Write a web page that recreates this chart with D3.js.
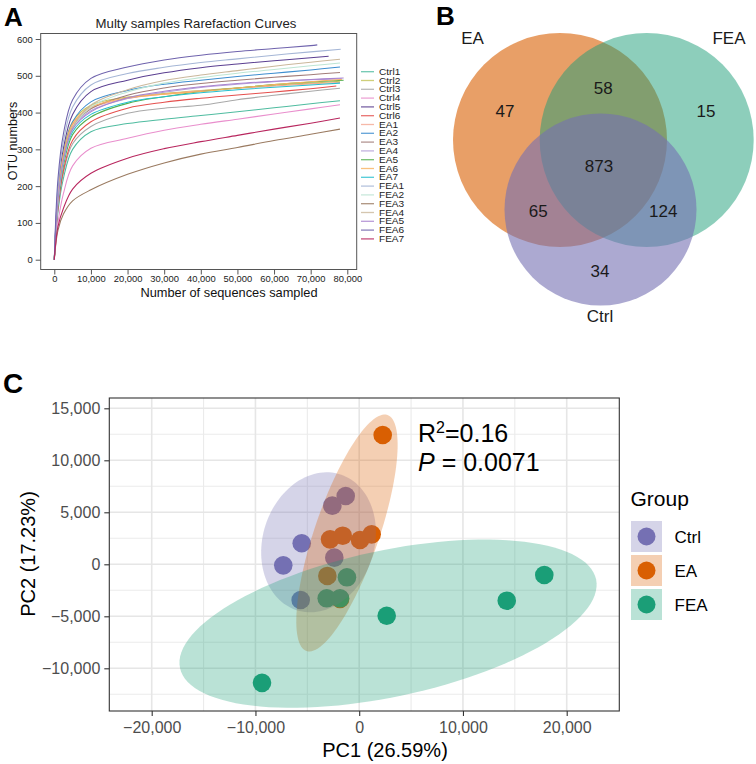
<!DOCTYPE html>
<html><head><meta charset="utf-8">
<script src="https://cdn.jsdelivr.net/npm/d3@7"></script>
<style>
body{margin:0;background:#fff}
svg text{font-family:"Liberation Sans",Arial,Helvetica,sans-serif}
</style>
</head><body>
<svg id="chart" width="756" height="764"></svg>
<script>
// ---------------- DATA ----------------
// Panel A: rarefaction curves
const sampleNames = ["Ctrl1","Ctrl2","Ctrl3","Ctrl4","Ctrl5","Ctrl6","EA1","EA2","EA3","EA4","EA5","EA6","EA7","FEA1","FEA2","FEA3","FEA4","FEA5","FEA6","FEA7"];
const sampleColors = ["#4fbca0","#c4c45a","#a9a9a9","#e98fcd","#5b3f91","#e5504e","#f5a893","#3e8ecf","#a27d79","#b5a0d8","#55b04f","#f9b25f","#27c0cf","#a5b6d6","#bde5d4","#9a7a60","#cbb89c","#a983cf","#6f63ad","#b8265e"];
const seqDepthGrid = [0,1000,2500,5000,10000,20000,30000,40000,50000,60000,70000];
const sampleEndDepth = [78000,78000,78000,78000,74900,77000,78000,78000,78000,78500,79000,78500,78000,78200,78000,78000,78000,79000,71800,78000];
const otuCtrl = [
  [0,130,222,300,348,370,382,392,402,413,424,432],
  [0,175,292,375,420,442,452,460,467,474,480,485],
  [0,138,236,315,362,398,412,420,435,447,458,466],
  [0,100,180,255,303,330,352,368,382,396,410,421],
  [0,185,303,395,457,488,508,522,532,541,549,553],
  [0,140,242,325,375,412,428,439,448,456,465,472]
];
const otuEA = [
  [0,165,282,367,412,438,450,459,466,472,478,482],
  [0,175,288,375,429,460,477,488,498,507,516,524],
  [0,165,277,360,410,447,467,479,488,496,503,509],
  [0,162,272,357,405,438,455,468,477,484,489,492],
  [0,150,256,340,388,425,443,457,467,476,483,488],
  [0,170,287,370,415,440,450,457,467,476,484,490],
  [0,155,264,348,395,428,443,454,462,469,475,480]
];
const otuFEA = [
  [0,200,323,415,475,506,523,536,546,556,565,572],
  [0,158,267,355,415,456,480,495,507,517,527,535],
  [0,80,124,160,190,232,263,287,305,324,341,355],
  [0,160,272,360,420,462,487,502,514,526,537,545],
  [0,160,270,355,402,440,458,470,479,485,490,494],
  [0,220,343,435,493,524,543,556,566,574,582,584],
  [0,90,140,192,235,276,302,321,338,355,371,385]
];
const rareXTicks = [0,10000,20000,30000,40000,50000,60000,70000,80000];
const rareYTicks = [0,100,200,300,400,500,600];

// Panel B: Venn
const vennSetNames = ["EA","FEA","Ctrl"];
const vennRegionLabels = ["EA only","FEA only","Ctrl only","EA∩FEA","EA∩Ctrl","FEA∩Ctrl","all"];
const vennRegionCounts = [47,15,34,58,65,124,873];

// Panel C: PCoA
const groupNames = ["Ctrl","EA","FEA"];
const groupColors = ["#7570b3","#d95f02","#1b9e77"];
const pc1Ctrl = [-1300,-2590,-5540,-7320,-2400,-5640];
const pc2Ctrl = [6570,5640,2020,-100,640,-3430];
const pc1EA = [2265,-2810,-1590,80,1200,-3070,-1850];
const pc2EA = [12430,2400,2750,2340,2880,-1120,-3330];
const pc1FEA = [-1180,-3130,-1850,2650,14220,17840,-9370];
const pc2FEA = [-1250,-3270,-3270,-4950,-3500,-1030,-11400];
// 95% ellipse estimates: centre x, centre y, semi-major, semi-minor, angle (deg)
const ellipseCx = [-3920,-1180,2780];
const ellipseCy = [2115,3010,-5710];
const ellipseA = [6860,12000,20500];
const ellipseB = [5370,3100,7030];
const ellipseAngle = [72,71,12];
const pcXTicks = [-20000,-10000,0,10000,20000];
const pcYTicks = [-10000,-5000,0,5000,10000,15000];
const pcXMinor = [-15000,-5000,5000,15000];
const pcYMinor = [-12500,-7500,-2500,2500,7500,12500];
const statR2 = "0.16", statP = "0.0071";

// ---------------- DRAW ----------------
const svg = d3.select("#chart");
svg.append("rect").attr("width",756).attr("height",764).attr("fill","#fff");

// ===== Panel A =====
const gA = svg.append("g");
gA.append("text").attr("x",4).attr("y",26).attr("font-size",26).attr("font-weight","bold").text("A");
const xA = d3.scaleLinear().domain([0,80000]).range([54.3,347.3]);
const yA = d3.scaleLinear().domain([0,600]).range([259.7,39]);
const boxA = {l:40.7,r:356.7,t:33.5,b:269.5};
gA.append("text").attr("x",196).attr("y",28).attr("text-anchor","middle").attr("font-size",13.2).attr("fill","#222").text("Multy samples Rarefaction Curves");

const allCurves = otuCtrl.concat(otuEA, otuFEA);
const lineA = d3.line().x(d=>xA(d[0])).y(d=>yA(d[1])).curve(d3.curveCatmullRom.alpha(0.5));
const curveG = gA.append("g");
allCurves.forEach((vals,i)=>{
  const pts = seqDepthGrid.map((x,j)=>[x,vals[j]]);
  pts.push([sampleEndDepth[i], vals[vals.length-1]]);
  curveG.append("path").attr("d",lineA(pts)).attr("fill","none")
    .attr("stroke",sampleColors[i]).attr("stroke-width",1.05);
});
gA.append("rect").attr("x",boxA.l).attr("y",boxA.t).attr("width",boxA.r-boxA.l).attr("height",boxA.b-boxA.t)
  .attr("fill","none").attr("stroke","#555").attr("stroke-width",1);
const axAy = gA.append("g").attr("transform",`translate(${boxA.l},0)`)
  .call(d3.axisLeft(yA).tickValues(rareYTicks).tickSize(5).tickPadding(3).tickFormat(d3.format("d")));
const axAx = gA.append("g").attr("transform",`translate(0,${boxA.b})`)
  .call(d3.axisBottom(xA).tickValues(rareXTicks).tickSize(5).tickPadding(1).tickFormat(d3.format(",")));
[axAy,axAx].forEach(a=>{a.select(".domain").remove();a.selectAll("line").attr("stroke","#555");
  a.selectAll("text").attr("font-size",9.4).attr("fill","#222").attr("font-family","Liberation Sans, Arial, sans-serif");});
gA.append("text").attr("transform","translate(17,141) rotate(-90)").attr("text-anchor","middle").attr("font-size",12.5).attr("fill","#111").text("OTU numbers");
gA.append("text").attr("x",229).attr("y",296.5).attr("text-anchor","middle").attr("font-size",12.8).attr("fill","#111").text("Number of sequences sampled");
// legend
const legA = gA.append("g");
sampleNames.forEach((n,i)=>{
  const y = 71.7 + i*8.8;
  legA.append("line").attr("x1",361).attr("x2",374).attr("y1",y).attr("y2",y).attr("stroke",sampleColors[i]).attr("stroke-width",1.3).attr("opacity",0.8);
  legA.append("text").attr("transform",`translate(379,${y+3}) scale(1.2,1)`).attr("font-size",8.4).attr("fill","#222").text(n);
});

// ===== Panel B =====
const gB = svg.append("g");
gB.append("text").attr("x",436).attr("y",25).attr("font-size",26).attr("font-weight","bold").text("B");
const vennColor = d3.scaleOrdinal().domain(vennSetNames).range(["#d95f02","#1b9e77","#7570b3"]);
const vennOpacity = d3.scaleOrdinal().domain(vennSetNames).range([0.6,0.5,0.6]);
const vennCircles = [
  {name:"EA", cx:560, cy:140, r:107},
  {name:"FEA", cx:646.7, cy:140, r:107},
  {name:"Ctrl", cx:600.5, cy:209.5, r:96}
];
gB.selectAll("circle").data(vennCircles).join("circle")
  .attr("cx",d=>d.cx).attr("cy",d=>d.cy).attr("r",d=>d.r)
  .attr("fill",d=>vennColor(d.name)).attr("fill-opacity",d=>vennOpacity(d.name));
const vennLabelPos = [[505,116.7],[706,116.7],[600,277.3],[603.3,94],[538.3,217.3],[663.3,217.3],[599,171.7]];
vennRegionCounts.forEach((c,i)=>{
  gB.append("text").attr("x",vennLabelPos[i][0]).attr("y",vennLabelPos[i][1]).attr("text-anchor","middle")
    .attr("font-size",17).attr("fill","#1a1a1a").text(c);
});
const vennNamePos = [[472.5,43.5],[729,43.5],[600,322]];
vennSetNames.forEach((n,i)=>{
  gB.append("text").attr("x",vennNamePos[i][0]).attr("y",vennNamePos[i][1]).attr("text-anchor","middle")
    .attr("font-size",17).attr("fill","#1a1a1a").text(n);
});

// ===== Panel C =====
const gC = svg.append("g");
gC.append("text").attr("x",3).attr("y",393).attr("font-size",28).attr("font-weight","bold").text("C");
const boxC = {l:109.3,r:619.3,t:398,b:711};
const xC = d3.scaleLinear().domain([-20000,20000]).range([151.7,566.7]);
const yC = d3.scaleLinear().domain([-10000,15000]).range([668.3,408.3]);
gC.append("rect").attr("x",boxC.l).attr("y",boxC.t).attr("width",boxC.r-boxC.l).attr("height",boxC.b-boxC.t).attr("fill","#fff");
const grid = gC.append("g");
pcXMinor.forEach(v=>grid.append("line").attr("x1",xC(v)).attr("x2",xC(v)).attr("y1",boxC.t).attr("y2",boxC.b).attr("stroke","#ebebeb").attr("stroke-width",1.1));
pcYMinor.forEach(v=>grid.append("line").attr("y1",yC(v)).attr("y2",yC(v)).attr("x1",boxC.l).attr("x2",boxC.r).attr("stroke","#ebebeb").attr("stroke-width",1.1));
pcXTicks.forEach(v=>grid.append("line").attr("x1",xC(v)).attr("x2",xC(v)).attr("y1",boxC.t).attr("y2",boxC.b).attr("stroke","#e6e6e6").attr("stroke-width",1.6));
pcYTicks.forEach(v=>grid.append("line").attr("y1",yC(v)).attr("y2",yC(v)).attr("x1",boxC.l).attr("x2",boxC.r).attr("stroke","#e6e6e6").attr("stroke-width",1.6));

const pts = [];
pc1Ctrl.forEach((v,i)=>pts.push({g:0,x:v,y:pc2Ctrl[i]}));
pc1EA.forEach((v,i)=>pts.push({g:1,x:v,y:pc2EA[i]}));
pc1FEA.forEach((v,i)=>pts.push({g:2,x:v,y:pc2FEA[i]}));
gC.append("g").selectAll("circle").data(pts).join("circle")
  .attr("cx",d=>xC(d.x)).attr("cy",d=>yC(d.y)).attr("r",9.3).attr("fill",d=>groupColors[d.g]);

const ellG = gC.append("g");
groupNames.forEach((g,i)=>{
  const phi = ellipseAngle[i]*Math.PI/180;
  const ring = d3.range(0,121).map(k=>{
    const t = k/120*2*Math.PI;
    const dx = ellipseA[i]*Math.cos(t)*Math.cos(phi) - ellipseB[i]*Math.sin(t)*Math.sin(phi);
    const dy = ellipseA[i]*Math.cos(t)*Math.sin(phi) + ellipseB[i]*Math.sin(t)*Math.cos(phi);
    return [xC(ellipseCx[i]+dx), yC(ellipseCy[i]+dy)];
  });
  ellG.append("path").attr("d",d3.line()(ring)+"Z").attr("fill",groupColors[i]).attr("fill-opacity",0.3);
});
gC.append("rect").attr("x",boxC.l).attr("y",boxC.t).attr("width",boxC.r-boxC.l).attr("height",boxC.b-boxC.t)
  .attr("fill","none").attr("stroke","#333").attr("stroke-width",1.1);

const axCy = gC.append("g").attr("transform",`translate(${boxC.l},0)`)
  .call(d3.axisLeft(yC).tickValues(pcYTicks).tickSize(5).tickPadding(4).tickFormat(d3.format(",")));
const axCx = gC.append("g").attr("transform",`translate(0,${boxC.b})`)
  .call(d3.axisBottom(xC).tickValues(pcXTicks).tickSize(5).tickPadding(6).tickFormat(d3.format(",")));
[axCy,axCx].forEach(a=>{a.select(".domain").remove();a.selectAll("line").attr("stroke","#333").attr("stroke-width",1.1);
  a.selectAll("text").attr("font-size",16).attr("fill","#4d4d4d").attr("font-family","Liberation Sans, Arial, sans-serif");});
gC.append("text").attr("x",385).attr("y",757).attr("text-anchor","middle").attr("font-size",20).attr("fill","#000").text("PC1 (26.59%)");
gC.append("text").attr("transform","translate(35,554) rotate(-90)").attr("text-anchor","middle").attr("font-size",20).attr("fill","#000").text("PC2 (17.23%)");

const r2 = gC.append("text").attr("x",418).attr("y",441.7).attr("font-size",25).attr("fill","#000");
r2.append("tspan").text("R");
r2.append("tspan").attr("font-size",16).attr("dy",-9).text("2");
r2.append("tspan").attr("dy",9).text("="+statR2);
const pt = gC.append("text").attr("x",418).attr("y",470.7).attr("font-size",25).attr("fill","#000");
pt.append("tspan").attr("font-style","italic").text("P");
pt.append("tspan").text(" = "+statP);

// legend
const legC = gC.append("g");
legC.append("text").attr("x",630.5).attr("y",505.5).attr("font-size",21).attr("fill","#000").text("Group");
groupNames.forEach((g,i)=>{
  const y0 = 521 + i*34;
  legC.append("rect").attr("x",631).attr("y",y0).attr("width",31).attr("height",31).attr("fill",groupColors[i]).attr("fill-opacity",0.3);
  legC.append("circle").attr("cx",646.5).attr("cy",y0+15.5).attr("r",9).attr("fill",groupColors[i]);
  legC.append("text").attr("x",674.5).attr("y",y0+21.5).attr("font-size",17).attr("fill","#000").text(g);
});
</script>
</body></html>
